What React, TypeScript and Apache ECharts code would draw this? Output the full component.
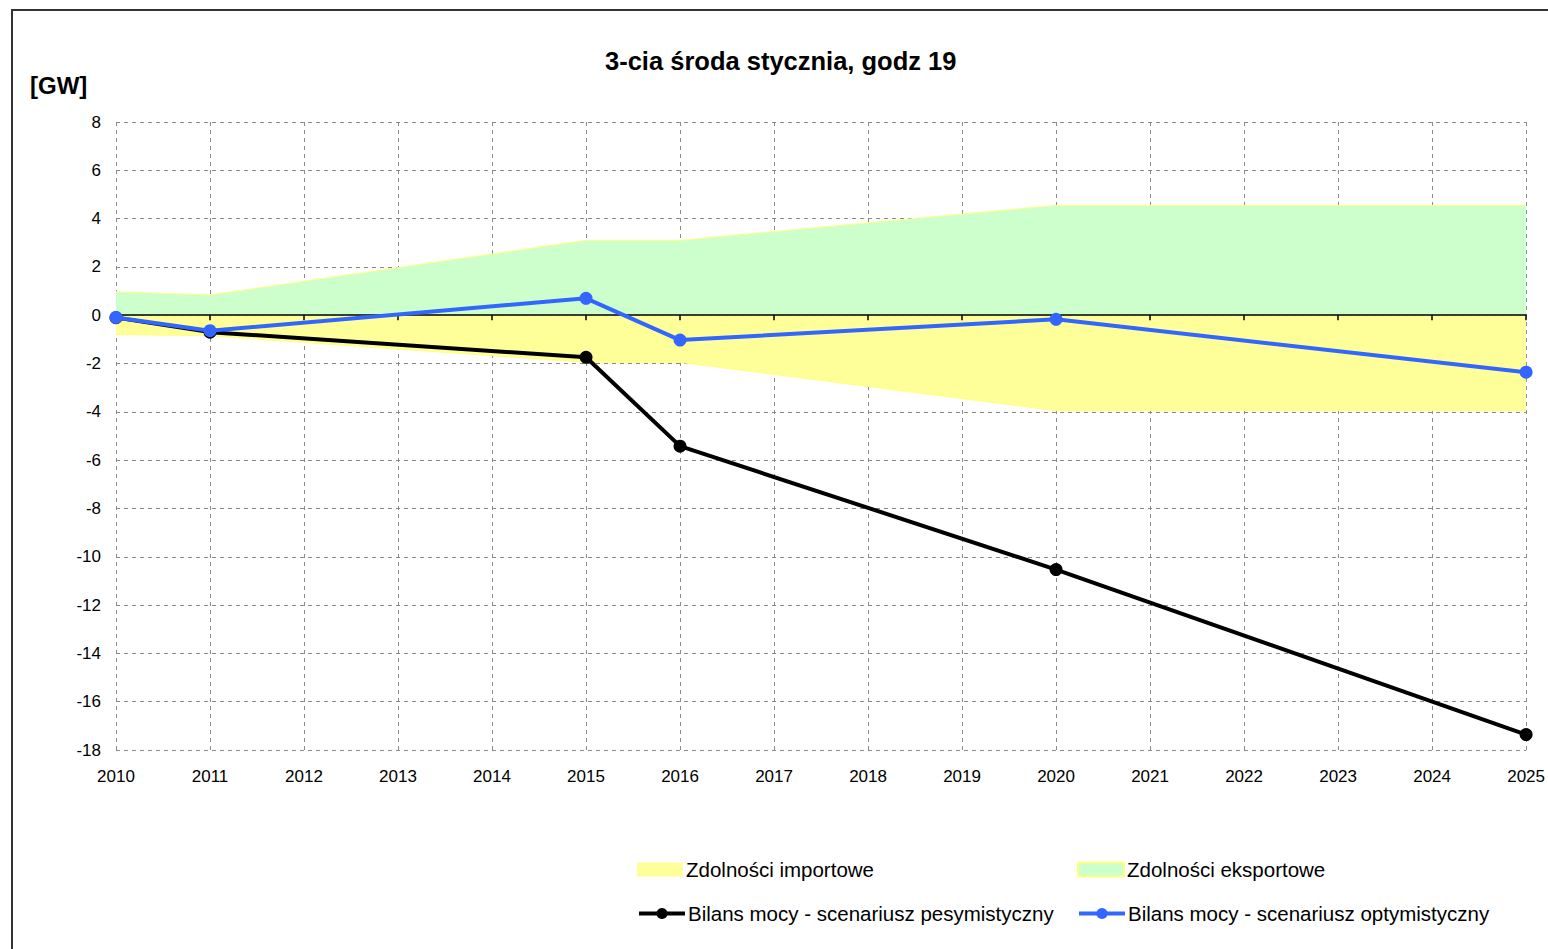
import React, { useEffect, useRef } from "react";
import * as echarts from "echarts";

const years = [2010, 2011, 2015, 2016, 2020, 2025];
const importCap = [-0.8, -0.85, -1.95, -1.95, -3.95, -3.95];
const exportCap = [0.97, 0.84, 3.1, 3.1, 4.55, 4.55];
const pessimistic = [-0.1, -0.7, -1.74, -5.42, -10.53, -17.36];
const optimistic = [-0.09, -0.64, 0.7, -1.03, -0.17, -2.36];

const titleText = "3-cia środa stycznia, godz 19";
const unitText = "[GW]";
const names = [
  "Zdolności importowe",
  "Zdolności eksportowe",
  "Bilans mocy - scenariusz pesymistyczny",
  "Bilans mocy - scenariusz optymistyczny",
];

const pair = (vals: number[]) => years.map((y, i) => [y, vals[i]]);

export default function App() {
  const ref = useRef<HTMLDivElement>(null);
  useEffect(() => {
    if (!ref.current) return;
    const chart = echarts.init(ref.current, undefined, { renderer: "svg" });
    const font = "'Liberation Sans', Arial, sans-serif";
    const legendBase = {
      padding: 0,
      itemWidth: 46,
      itemHeight: 14,
      itemGap: 0,
      textStyle: { fontFamily: font, fontSize: 20.5, color: "#000", padding: [0, 0, 0, -2] },
    };
    const grid = "#8a8a8a";
    chart.setOption({
      animation: false,
      backgroundColor: "#fff",
      title: [
        {
          text: titleText,
          left: 605,
          top: 48,
          padding: 0,
          textStyle: { fontFamily: font, fontSize: 25.5, fontWeight: "bold", color: "#000" },
        },
        {
          text: unitText,
          left: 30,
          top: 73,
          padding: 0,
          textStyle: { fontFamily: font, fontSize: 24, fontWeight: "bold", color: "#000" },
        },
      ],
      graphic: [
        {
          type: "rect",
          shape: { x: 12, y: 10, width: 1700, height: 1100 },
          style: { fill: "none", stroke: "#333", lineWidth: 2 },
          silent: true,
        },
      ],
      legend: [
        { ...legendBase, left: 637, top: 859, data: [{ name: names[0], icon: "rect" }] },
        { ...legendBase, left: 1077, top: 859, data: [{ name: names[1], icon: "rect" }] },
        { ...legendBase, left: 637, top: 903, data: [names[2]], lineStyle: { width: 4 } },
        { ...legendBase, left: 1077, top: 903, data: [names[3]], lineStyle: { width: 4 } },
      ],
      grid: { left: 116, right: 21, top: 122, bottom: 199, containLabel: false },
      xAxis: [
        {
          type: "value",
          min: 2010,
          max: 2025,
          interval: 1,
          position: "bottom",
          axisLine: { show: false, onZero: false },
          axisTick: { show: false },
          axisLabel: {
            margin: 18,
            fontFamily: font,
            fontSize: 17,
            color: "#000",
            formatter: (v: number) => String(v),
          },
          splitLine: { show: true, lineStyle: { color: grid, type: [4, 4], width: 1 } },
        },
        {
          type: "value",
          min: 2010,
          max: 2025,
          interval: 1,
          position: "top",
          z: 3,
          axisLine: { show: true, onZero: true, lineStyle: { color: "#000", width: 1.5 } },
          axisTick: { show: true, inside: true, length: 5, lineStyle: { color: "#000", width: 1.5 } },
          axisLabel: { show: false },
          splitLine: { show: false },
        },
      ],
      yAxis: {
        type: "value",
        min: -18,
        max: 8,
        interval: 2,
        axisLine: { show: false },
        axisTick: { show: false },
        axisLabel: { margin: 15, fontFamily: font, fontSize: 17, color: "#000" },
        splitLine: { show: true, lineStyle: { color: grid, type: [4, 4], width: 1 } },
      },
      series: [
        {
          name: names[1],
          type: "line",
          data: pair(exportCap),
          symbol: "none",
          itemStyle: { color: "#ccffcc", borderColor: "#ffff80", borderWidth: 1 },
          lineStyle: { color: "#ffff80", width: 1 },
          areaStyle: { color: "#ccffcc", opacity: 1 },
          z: 1,
        },
        {
          name: names[0],
          type: "line",
          data: pair(importCap),
          symbol: "none",
          itemStyle: { color: "#ffff99" },
          lineStyle: { color: "#ffff80", width: 1 },
          areaStyle: { color: "#ffff99", opacity: 1 },
          z: 1,
        },
        {
          name: names[2],
          type: "line",
          data: pair(pessimistic),
          symbol: "circle",
          symbolSize: 13,
          itemStyle: { color: "#000" },
          lineStyle: { color: "#000", width: 4 },
          z: 4,
        },
        {
          name: names[3],
          type: "line",
          data: pair(optimistic),
          symbol: "circle",
          symbolSize: 13,
          itemStyle: { color: "#3366ff" },
          lineStyle: { color: "#3366ff", width: 4 },
          z: 5,
        },
      ],
    });
    return () => chart.dispose();
  }, []);
  return (
    <div
      ref={ref}
      style={{ position: "absolute", left: 0, top: 0, width: 1548, height: 949 }}
    />
  );
}
